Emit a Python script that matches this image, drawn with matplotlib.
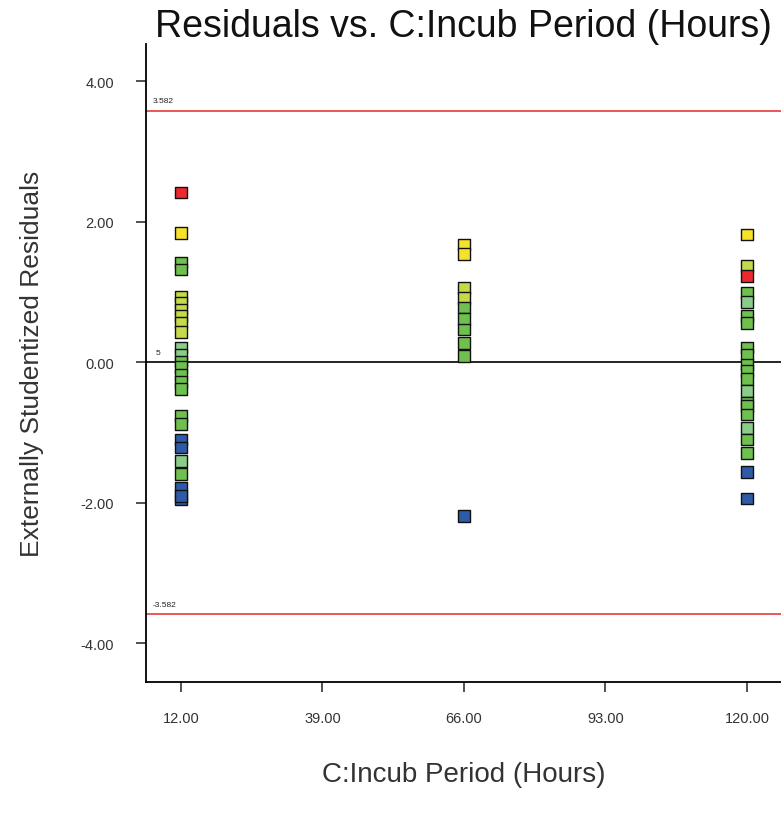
import matplotlib
matplotlib.use("Agg")
import matplotlib.pyplot as plt

plt.rcParams['font.family'] = ['Liberation Sans', 'DejaVu Sans']

# incubation period (hours) and externally studentized residuals
x_12 = [12] * 26
r_12 = [2.42, 1.84, 1.42, 1.32, 0.94, 0.85, 0.75, 0.66, 0.57, 0.43,
        0.21, 0.11, 0.01, -0.07, -0.17, -0.28, -0.38, -0.76, -0.88,
        -1.10, -1.21, -1.40, -1.59, -1.78, -1.95, -1.90]
c_12 = ['red', 'yellow', 'green', 'green', 'ygreen', 'ygreen', 'ygreen', 'ygreen', 'ygreen', 'ygreen',
        'lgreen', 'lgreen', 'green', 'green', 'green', 'green', 'green', 'green', 'green',
        'blue', 'blue', 'lgreen', 'green', 'blue', 'blue', 'blue']

x_66 = [66] * 10
r_66 = [1.68, 1.54, 1.06, 0.92, 0.78, 0.62, 0.47, 0.28, 0.09, -2.19]
c_66 = ['yellow', 'yellow', 'ygreen', 'ygreen', 'green', 'green', 'green', 'green', 'green', 'blue']

x_120 = [120] * 21
r_120 = [1.82, 1.37, 1.23, 0.99, 0.86, 0.66, 0.56, 0.21, 0.11, -0.03, -0.12,
         -0.24, -0.41, -0.57, -0.62, -0.74, -0.93, -1.10, -1.29, -1.56, -1.94]
c_120 = ['yellow', 'ygreen', 'red', 'green', 'lgreen', 'green', 'green', 'green', 'green', 'green', 'green',
         'green', 'lgreen', 'green', 'green', 'green', 'lgreen', 'green', 'green', 'blue', 'blue']

limit = 3.582
x_ticks = [12, 39, 66, 93, 120]
y_ticks = [-4, -2, 0, 2, 4]

palette = {'red': '#ec2a2e', 'yellow': '#f6e22a', 'ygreen': '#c6d94a',
           'green': '#6fc04e', 'lgreen': '#8acd8a', 'blue': '#2f5aa8'}

fig = plt.figure(figsize=(7.81, 8.20), dpi=100)
ax = fig.add_axes([0.187, 0.167, 0.813, 0.778])

for xs, rs, cs in [(x_12, r_12, c_12), (x_66, r_66, c_66), (x_120, r_120, c_120)]:
    ax.scatter(xs, rs, s=70, marker='s', c=[palette[c] for c in cs],
               edgecolors='#111111', linewidths=1.0, zorder=3)

ax.axhline(0, color='black', lw=1.2, zorder=2)
ax.axhline(limit, color='#e8484a', lw=1.3, zorder=2)
ax.axhline(-limit, color='#e8484a', lw=1.3, zorder=2)
ax.text(6.5, limit + 0.12, f'{limit:.3f}', fontsize=6, color='#222222')
ax.text(6.5, -limit + 0.12, f'{-limit:.3f}', fontsize=6, color='#222222')
ax.text(7.2, 0.12, '5', fontsize=6, color='#222222')

ax.set_xlim(5.33, 126.5)
ax.set_ylim(-4.55, 4.53)
ax.set_xticks(x_ticks)
ax.set_xticklabels([f'{v:.2f}' for v in x_ticks])
ax.set_yticks(y_ticks)
ax.set_yticklabels([f'{v:.2f}' for v in y_ticks])
ax.tick_params(direction='out', length=7, width=1.2, labelsize=10.5, colors='#333333')
ax.tick_params(axis='x', pad=14)
ax.tick_params(axis='y', pad=16)
ax.spines['top'].set_visible(False)
ax.spines['right'].set_visible(False)
for s in ['left', 'bottom']:
    ax.spines[s].set_linewidth(1.3)

ax.set_title('Residuals vs. C:Incub Period (Hours)', fontsize=27, color='#111111', pad=3)
ax.set_xlabel('C:Incub Period (Hours)', fontsize=20, color='#333333', labelpad=26)
ax.set_ylabel('Externally Studentized Residuals', fontsize=19, color='#333333', labelpad=26)

fig.savefig('out.png', dpi=100)
